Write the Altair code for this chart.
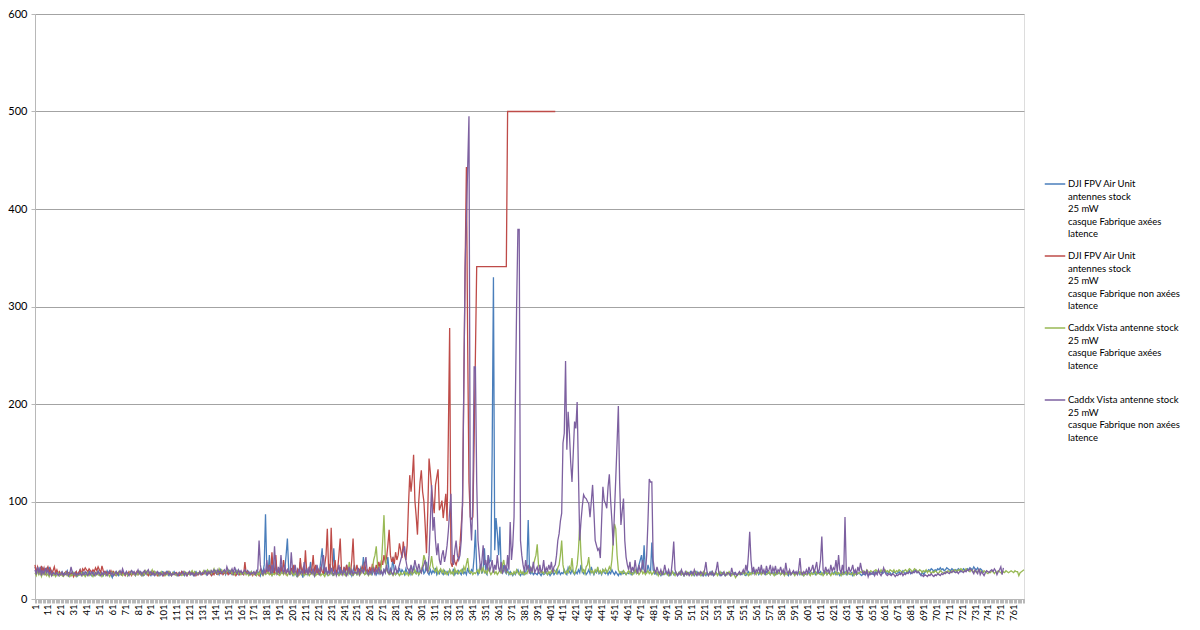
import altair as alt
import pandas as pd

NB = "\u00a0"
NAMES = [
    "DJI FPV Air Unit\nantennes stock\n25 mW\n" + NB + "casque Fabrique axées\nlatence",
    "DJI FPV Air Unit\nantennes stock\n25 mW\n" + NB + "casque Fabrique non axées\nlatence",
    "Caddx Vista antenne stock\n25 mW\n" + NB + "casque Fabrique axées\nlatence\n" + NB,
    "Caddx Vista antenne stock\n25 mW\n" + NB + "casque Fabrique non axées\nlatence",
]
COLORS = ["#4A7EBB", "#BE4B48", "#98B954", "#7D60A0"]
N_CATEGORIES = 769

blue = [
    33, 28, 31, 26, 33, 27, 32, 30, 25, 31,
    28, 33, 26, 29, 27, 25, 28, 26, 27, 24,
    26, 28, 25, 27, 26, 29, 24, 27, 25, 28,
    26, 25, 28, 24, 27, 30, 25, 28, 26, 24,
    27, 25, 29, 26, 24, 28, 25, 27, 26, 29,
    25, 28, 26, 24, 27, 25, 29, 26, 28, 25,
    22, 27, 25, 28, 26, 24, 27, 25, 28, 26,
    25, 28, 24, 27, 26, 25, 28, 26, 24, 27,
    26, 28, 25, 27, 24, 26, 28, 25, 27, 26,
    24, 27, 25, 28, 26, 25, 27, 24, 26, 28,
    27, 25, 28, 26, 24, 27, 25, 26, 28, 25,
    26, 24, 27, 25, 28, 26, 24, 27, 25, 26,
    28, 25, 27, 24, 26, 28, 25, 27, 26, 25,
    27, 26, 28, 25, 29, 27, 26, 28, 25, 27,
    29, 26, 28, 25, 30, 27, 26, 29, 25, 28,
    26, 29, 27, 25, 28, 26, 30, 27, 25, 28,
    26, 27, 25, 28, 26, 29, 27, 25, 28, 26,
    27, 25, 29, 26, 28, 24, 30, 27, 35, 87,
    30, 26, 45, 28, 25, 33, 27, 40, 26, 29,
    25, 35, 28, 26, 31, 45, 62, 30, 26, 28,
    25, 33, 27, 24, 30, 26, 38, 27, 22, 29,
    26, 32, 25, 28, 38, 26, 30, 24, 27, 33,
    25, 29, 40, 52, 28, 26, 31, 25, 29, 36,
    27, 25, 52, 30, 26, 28, 24, 33, 27, 26,
    30, 25, 35, 28, 26, 30, 24, 28, 35, 27,
    25, 29, 26, 32, 28, 43, 30, 26, 28, 25,
    27, 30, 26, 33, 28, 25, 29, 26, 31, 27,
    25, 30, 27, 33, 43, 28, 26, 30, 43, 27,
    25, 29, 27, 32, 26, 30, 28, 25, 31, 27,
    26, 30, 25, 28, 34, 27, 26, 31, 25, 29,
    27, 33, 26, 28, 38, 27, 25, 30, 26, 29,
    27, 32, 25, 28, 26, 30, 27, 25, 29, 26,
    28, 25, 30, 27, 26, 31, 25, 28, 26, 29,
    27, 25, 30, 26, 28, 25, 32, 27, 26, 30,
    28, 43, 71, 30, 25, 28, 35, 26, 30, 52,
    27, 25, 45, 38, 40, 150, 330, 50, 83, 68,
    45, 74, 30, 27, 35, 28, 26, 30, 25, 28,
    26, 24, 27, 25, 28, 30, 26, 24, 27, 25,
    28, 26, 35, 81, 30, 26, 28, 25, 27, 26,
    25, 28, 26, 24, 27, 25, 26, 28, 25, 27,
    24, 26, 28, 25, 27, 30, 26, 29, 25, 27,
    26, 30, 27, 25, 32, 28, 26, 30, 27, 25,
    28, 26, 30, 27, 35, 28, 26, 29, 25, 27,
    30, 26, 33, 28, 25, 29, 27, 31, 26, 28,
    25, 30, 27, 26, 29, 25, 28, 26, 30, 27,
    25, 28, 26, 24, 27, 25, 28, 26, 27, 25,
    27, 26, 28, 25, 27, 26, 29, 27, 30, 35,
    40, 45, 30, 55, 28, 27, 35, 30, 28, 58,
    30, 26, 28, 25, 27, 26, 24, 27, 25, 26,
    28, 25, 27, 24, 26, 28, 25, 27, 26, 24,
    26, 28, 25, 27, 24, 26, 25, 27, 26, 28,
    25, 27, 24, 26, 28, 25, 27, 26, 24, 27,
    26, 24, 27, 25, 26, 28, 25, 24, 26, 27,
    25, 26, 24, 27, 25, 26, 24, 25, 27, 26,
    24, 26, 25, 27, 26, 24, 25, 27, 26, 25,
    27, 25, 24, 26, 28, 25, 27, 26, 30, 27,
    26, 28, 25, 27, 26, 29, 27, 25, 28, 26,
    27, 25, 28, 26, 27, 25, 28, 26, 27, 25,
    26, 28, 25, 27, 26, 24, 27, 25, 26, 28,
    25, 27, 26, 28, 25, 27, 26, 24, 27, 25,
    26, 28, 25, 27, 26, 28, 25, 27, 29, 26,
    28, 25, 27, 26, 28, 25, 27, 26, 25, 27,
    26, 28, 25, 27, 26, 24, 27, 25, 26, 28,
    25, 27, 26, 25, 27, 24, 26, 28, 25, 26,
    27, 25, 24, 26, 25, 27, 26, 24, 25, 27,
    26, 25, 27, 28, 26, 29, 27, 28, 26, 27,
    29, 27, 26, 28, 27, 25, 26, 28, 27, 26,
    27, 28, 26, 27, 29, 27, 26, 28, 27, 29,
    26, 28, 27, 29, 30, 27, 28, 26, 24, 28,
    25, 27, 29, 28, 30, 29, 31, 30, 28, 30,
    29, 31, 30, 32, 30, 31, 29, 30, 32, 31,
    30, 29, 31, 30, 28, 30, 29, 31, 30, 28,
    29, 31, 30, 29, 31, 30, 32, 31, 30, 33,
    31, 30, 32, 29, 31, 30, 28, 27,
]

red = [
    35, 27, 33, 29, 25, 34, 28, 32, 26, 30,
    33, 27, 31, 25, 29, 33, 27, 30, 26, 28,
    25, 27, 24, 26, 28, 25, 27, 26, 24, 27,
    23, 26, 28, 25, 27, 30, 26, 31, 29, 32,
    30, 28, 31, 29, 27, 30, 28, 32, 29, 33,
    30, 27, 34, 29, 26, 28, 25, 27, 26, 29,
    26, 28, 25, 24, 27, 26, 28, 25, 27, 26,
    24, 27, 25, 28, 26, 24, 27, 25, 26, 28,
    25, 27, 26, 24, 27, 25, 28, 26, 24, 27,
    25, 26, 28, 25, 27, 24, 26, 25, 27, 26,
    24, 27, 25, 26, 28, 25, 24, 27, 26, 25,
    27, 25, 24, 26, 28, 25, 27, 26, 24, 27,
    25, 26, 28, 25, 27, 24, 26, 25, 28, 26,
    25, 27, 26, 28, 25, 27, 26, 24, 27, 25,
    28, 26, 25, 27, 26, 28, 25, 27, 26, 28,
    25, 27, 26, 28, 25, 27, 24, 26, 28, 25,
    27, 26, 25, 38, 26, 28, 25, 27, 26, 24,
    27, 25, 28, 26, 24, 30, 26, 25, 28, 26,
    30, 27, 35, 25, 48, 28, 26, 45, 25, 30,
    27, 33, 26, 40, 28, 25, 30, 27, 26, 32,
    25, 35, 28, 26, 30, 24, 42, 27, 31, 25,
    50, 28, 26, 33, 25, 30, 45, 27, 35, 26,
    30, 25, 33, 28, 26, 35, 45, 72, 30, 27,
    73, 35, 28, 40, 27, 30, 45, 62, 30, 26,
    33, 28, 35, 27, 30, 26, 40, 62, 30, 28,
    35, 27, 30, 26, 33, 29, 38, 27, 30, 28,
    33, 27, 36, 30, 28, 35, 30, 38, 32, 40,
    35, 45, 38, 42, 55, 71, 45, 38, 42, 36,
    48, 40, 45, 57, 50, 42, 59, 45, 40, 55,
    95, 127, 110, 125, 148, 101, 85, 66, 100, 120,
    132, 110, 100, 75, 47, 90, 144, 130, 113, 100,
    88, 117, 125, 133, 91, 95, 101, 83, 95, 108,
    80, 170, 278, 37, 33, 45, 38, 35, 40, 42,
    55, 75, 96, 220, 339, 443, 260, 120, 84, 82,
    84, 160, 250, 341, 341, 341, 341, 341, 341, 341,
    341, 341, 341, 341, 341, 341, 341, 341, 341, 341,
    341, 341, 341, 341, 341, 341, 341, 500, 500, 500,
    500, 500, 500, 500, 500, 500, 500, 500, 500, 500,
    500, 500, 500, 500, 500, 500, 500, 500, 500, 500,
    500, 500, 500, 500, 500, 500, 500, 500, 500, 500,
    500, 500, 500, 500, 500,
]

green = [
    27, 24, 29, 25, 28, 23, 27, 25, 28, 24,
    26, 23, 27, 25, 24, 26, 23, 25, 27, 24,
    26, 24, 23, 25, 27, 24, 26, 23, 25, 24,
    27, 25, 23, 26, 24, 25, 27, 24, 26, 23,
    25, 27, 24, 26, 25, 23, 26, 24, 27, 25,
    24, 26, 23, 25, 27, 24, 26, 25, 23, 26,
    28, 25, 27, 24, 26, 28, 25, 27, 24, 26,
    25, 27, 24, 26, 28, 25, 27, 26, 24, 27,
    25, 28, 26, 24, 27, 25, 29, 26, 28, 25,
    27, 30, 26, 28, 25, 27, 24, 26, 28, 25,
    27, 24, 26, 25, 28, 26, 24, 27, 25, 26,
    24, 26, 27, 25, 24, 26, 28, 25, 27, 26,
    25, 27, 29, 26, 28, 25, 27, 26, 28, 25,
    27, 29, 26, 28, 30, 27, 29, 26, 28, 31,
    27, 29, 26, 31, 28, 30, 27, 29, 26, 28,
    30, 27, 29, 26, 28, 25, 27, 29, 26, 28,
    25, 27, 26, 28, 25, 27, 24, 26, 28, 25,
    27, 26, 24, 27, 25, 28, 26, 24, 27, 25,
    26, 28, 25, 27, 24, 26, 25, 27, 28, 25,
    24, 26, 28, 25, 27, 26, 24, 27, 25, 28,
    26, 24, 27, 25, 23, 26, 28, 25, 27, 24,
    26, 25, 27, 24, 26, 28, 25, 27, 24, 26,
    25, 27, 24, 26, 25, 23, 27, 25, 24, 26,
    28, 25, 24, 27, 25, 26, 24, 27, 25, 28,
    26, 24, 27, 25, 38, 27, 25, 24, 26, 28,
    25, 27, 24, 26, 30, 27, 25, 28, 26, 24,
    27, 25, 30, 40, 45, 54, 35, 28, 26, 35,
    60, 86, 45, 30, 27, 25, 28, 26, 24, 27,
    25, 27, 26, 24, 27, 25, 26, 28, 25, 27,
    24, 26, 28, 25, 27, 30, 26, 28, 25, 27,
    30, 35, 45, 40, 32, 28, 30, 35, 44, 33,
    30, 28, 32, 26, 29, 31, 27, 30, 26, 28,
    25, 27, 30, 26, 28, 25, 31, 27, 29, 26,
    28, 30, 26, 33, 29, 36, 42, 30, 27, 28,
    25, 27, 26, 28, 30, 26, 35, 28, 32, 27,
    29, 26, 31, 28, 25, 27, 30, 26, 28, 25,
    27, 30, 26, 35, 40, 30, 27, 28, 26, 25,
    27, 25, 28, 26, 30, 27, 25, 29, 26, 28,
    25, 27, 26, 30, 28, 33, 27, 35, 40, 45,
    56, 35, 30, 27, 28, 26, 30, 27, 25, 28,
    26, 29, 27, 30, 28, 26, 32, 35, 45, 60,
    35, 28, 26, 29, 27, 33, 30, 42, 28, 26,
    30, 35, 50, 76, 45, 28, 30, 26, 33, 35,
    43, 30, 27, 29, 26, 30, 28, 33, 27, 29,
    26, 30, 28, 31, 27, 29, 33, 30, 40, 60,
    77, 72, 45, 30, 27, 28, 26, 29, 27, 25,
    27, 29, 26, 28, 25, 27, 30, 26, 28, 25,
    27, 30, 26, 28, 25, 27, 29, 26, 28, 25,
    27, 29, 26, 28, 24, 27, 25, 28, 26, 25,
    27, 26, 24, 27, 25, 28, 26, 24, 27, 25,
    26, 28, 25, 27, 24, 26, 28, 25, 27, 26,
    24, 27, 25, 28, 26, 25, 27, 24, 26, 28,
    25, 27, 26, 24, 27, 25, 28, 26, 25, 27,
    24, 26, 28, 25, 27, 26, 24, 27, 25, 28,
    26, 24, 27, 25, 22, 24, 26, 25, 27, 26,
    28, 25, 27, 26, 24, 27, 25, 28, 26, 27,
    25, 28, 26, 27, 25, 28, 26, 27, 25, 26,
    28, 25, 27, 26, 24, 27, 25, 26, 28, 25,
    27, 26, 24, 27, 25, 28, 26, 25, 27, 26,
    24, 27, 25, 26, 28, 25, 27, 24, 26, 25,
    27, 26, 24, 27, 25, 26, 28, 25, 27, 26,
    25, 27, 24, 26, 28, 25, 27, 26, 24, 27,
    25, 26, 28, 25, 27, 26, 24, 27, 25, 26,
    28, 25, 27, 26, 25, 27, 24, 26, 25, 27,
    26, 28, 27, 29, 28, 27, 30, 28, 27, 29,
    28, 27, 29, 30, 28, 29, 27, 30, 28, 29,
    30, 28, 29, 27, 30, 29, 28, 30, 27, 29,
    28, 30, 29, 28, 27, 29, 30, 28, 29, 31,
    30, 28, 29, 31, 30, 29, 28, 30, 29, 27,
    29, 28, 30, 27, 29, 28, 26, 28, 27, 29,
    28, 26, 27, 29, 28, 27, 26, 28, 27, 29,
    28, 27, 29, 28, 30, 29, 28, 30, 29, 31,
    30, 28, 29, 31, 30, 29, 28, 30, 29, 28,
    29, 27, 28, 30, 29, 28, 27, 29, 28, 27,
    26, 28, 27, 29, 28, 26, 28, 27, 29, 28,
    27, 26, 28, 27, 29, 28, 27, 28, 29, 28,
    27, 29, 28, 28, 24, 27, 28, 29, 30,
]

purple = [
    30, 25, 33, 27, 31, 24, 29, 26, 32, 27,
    30, 25, 28, 24, 27, 26, 25, 27, 24, 26,
    25, 27, 24, 26, 25, 28, 24, 26, 33, 27,
    25, 27, 24, 26, 25, 27, 24, 26, 25, 28,
    26, 24, 27, 25, 28, 26, 24, 27, 25, 28,
    26, 24, 27, 25, 28, 26, 24, 27, 29, 25,
    27, 24, 26, 28, 25, 27, 29, 26, 31, 27,
    25, 28, 26, 24, 27, 29, 26, 28, 25, 27,
    30, 26, 28, 25, 27, 29, 26, 28, 30, 26,
    28, 25, 27, 24, 26, 28, 25, 27, 26, 24,
    27, 25, 26, 28, 25, 27, 24, 26, 25, 27,
    26, 24, 27, 25, 26, 28, 25, 27, 24, 26,
    28, 25, 27, 26, 24, 27, 25, 26, 28, 25,
    27, 26, 29, 27, 25, 28, 26, 29, 27, 30,
    28, 26, 30, 27, 29, 26, 28, 30, 27, 33,
    29, 26, 28, 31, 27, 33, 28, 26, 30, 27,
    29, 26, 28, 30, 27, 26, 28, 25, 27, 26,
    28, 25, 27, 30, 60, 35, 27, 25, 30, 26,
    40, 28, 32, 26, 35, 28, 54, 30, 27, 33,
    26, 45, 30, 27, 35, 26, 30, 28, 25, 48,
    30, 26, 35, 27, 24, 31, 26, 29, 25, 38,
    27, 30, 25, 33, 28, 26, 31, 24, 28, 35,
    27, 25, 30, 38, 45, 27, 33, 25, 29, 26,
    32, 27, 25, 30, 24, 28, 35, 26, 29, 25,
    31, 27, 24, 28, 33, 26, 30, 25, 28, 27,
    26, 32, 25, 28, 30, 26, 35, 43, 27, 25,
    29, 26, 31, 28, 25, 30, 27, 33, 26, 29,
    25, 30, 27, 35, 28, 26, 31, 27, 25, 29,
    33, 27, 30, 35, 40, 45, 50, 54, 40, 32,
    30, 27, 35, 28, 31, 40, 33, 29, 36, 30,
    27, 32, 35, 40, 30, 28, 45, 80, 117, 70,
    84, 60, 45, 57, 40, 35, 45, 50, 38, 45,
    55, 70, 90, 108, 40, 35, 50, 60, 45, 40,
    45, 60, 100, 220, 339, 390, 443, 495, 84, 60,
    100, 238, 238, 120, 60, 45, 30, 38, 55, 35,
    40, 30, 45, 28, 33, 40, 27, 35, 30, 45,
    32, 28, 38, 26, 30, 35, 27, 45, 30, 79,
    40, 55, 84, 200, 300, 379, 379, 60, 45, 35,
    28, 40, 30, 35, 26, 32, 28, 38, 27, 30,
    33, 26, 35, 28, 30, 40, 27, 32, 29, 35,
    30, 38, 27, 33, 35, 45, 60, 67, 80, 88,
    160, 170, 244, 153, 192, 170, 140, 120, 150, 182,
    175, 202, 130, 60, 80, 95, 107, 104, 103, 100,
    98, 84, 100, 117, 90, 60, 55, 50, 52, 42,
    80, 115, 101, 98, 93, 115, 128, 101, 80, 55,
    90, 124, 160, 198, 120, 76, 90, 103, 60, 43,
    35, 30, 38, 27, 33, 28, 40, 30, 26, 35,
    28, 32, 40, 30, 27, 45, 80, 123, 120, 120,
    40, 30, 27, 33, 28, 26, 30, 25, 27, 35,
    28, 26, 30, 25, 27, 40, 59, 30, 26, 24,
    27, 25, 30, 26, 24, 28, 25, 27, 24, 26,
    28, 25, 30, 26, 24, 27, 25, 28, 26, 24,
    30, 38, 26, 24, 27, 25, 28, 24, 26, 30,
    38, 27, 25, 24, 26, 28, 24, 25, 27, 26,
    24, 32, 26, 25, 27, 24, 26, 28, 25, 27,
    30, 26, 35, 28, 45, 69, 40, 27, 33, 26,
    30, 28, 33, 26, 35, 27, 30, 25, 34, 28,
    30, 35, 26, 32, 28, 34, 26, 30, 28, 33,
    27, 30, 25, 37, 28, 26, 30, 25, 27, 29,
    26, 28, 25, 30, 42, 27, 25, 28, 26, 30,
    26, 33, 28, 30, 35, 27, 32, 38, 26, 30,
    40, 64, 30, 27, 33, 28, 30, 26, 35, 28,
    32, 30, 40, 28, 45, 30, 27, 35, 26, 84,
    30, 27, 33, 28, 30, 35, 27, 30, 26, 33,
    28, 37, 30, 26, 28, 25, 30, 23, 27, 25,
    26, 28, 24, 27, 25, 30, 26, 24, 27, 32,
    28, 25, 24, 26, 25, 24, 26, 25, 23, 25,
    24, 26, 25, 27, 24, 26, 25, 27, 26, 28,
    27, 26, 28, 27, 29, 27, 28, 26, 25, 24,
    23, 25, 24, 23, 25, 24, 26, 24, 23, 25,
    24, 26, 25, 24, 26, 25, 27, 26, 28, 27,
    26, 28, 27, 29, 28, 27, 28, 26, 28, 29,
    28, 27, 29, 28, 30, 29, 31, 30, 28, 26,
    30, 28, 26, 31, 25, 28, 26, 24, 27, 29,
    28, 27, 29, 30, 28, 31, 29, 25, 28, 30,
    33, 25, 32,
]

SERIES = [blue, red, green, purple]
Y_TICKS = [0, 100, 200, 300, 400, 500, 600]
X_TICKS = list(range(1, N_CATEGORIES + 1))

FONT = "Lato"
GRID = "#a3a3a3"
AXIS = "#b8b8b8"

color = alt.Color(
    "serie:N",
    scale=alt.Scale(domain=NAMES, range=COLORS),
    legend=alt.Legend(
        title=None,
        orient="none",
        legendX=1009,
        legendY=159,
        symbolType="stroke",
        symbolSize=420,
        symbolStrokeWidth=1.5,
        labelExpr="split(datum.label, '\\n')",
        labelFont=FONT,
        labelFontSize=9.5,
        labelColor="#000000",
        labelLimit=260,
        rowPadding=6,
        labelOffset=2,
    ),
)

x = alt.X(
    "i:Q",
    scale=alt.Scale(domain=[1, N_CATEGORIES], nice=False, zero=False),
    axis=alt.Axis(
        values=X_TICKS,
        labelExpr="(datum.value - 1) % 10 == 0 ? datum.label : ''",
        labelAngle=-90,
        labelOverlap=False,
        labelBound=False,
        labelFlush=False,
        labelFont=FONT,
        labelFontSize=9.5,
        labelColor="#000000",
        labelPadding=1,
        tickSize=4,
        tickColor=AXIS,
        domainColor=AXIS,
        grid=False,
        title=None,
    ),
)
y = alt.Y(
    "v:Q",
    scale=alt.Scale(domain=[0, 600], nice=False),
    axis=alt.Axis(
        values=Y_TICKS,
        grid=True,
        gridColor=GRID,
        gridWidth=1,
        domainColor=AXIS,
        tickColor=AXIS,
        tickSize=4,
        labelFont=FONT,
        labelFontSize=11,
        labelColor="#000000",
        labelPadding=4,
        title=None,
    ),
)

layers = []
for name, vals in zip(NAMES, SERIES):
    df = pd.DataFrame({"serie": name, "i": list(range(1, len(vals) + 1)), "v": vals})
    layers.append(
        alt.Chart(df).mark_line(strokeWidth=1.3).encode(x=x, y=y, color=color)
    )

chart = (
    alt.layer(*layers)
    .properties(
        width=989,
        height=585,
        autosize=alt.AutoSizeParams(type="none"),
        padding={"left": 27, "top": 6, "right": 168, "bottom": 22},
        background="white",
    )
    .configure_view(stroke=None)
    .configure(style={"guide-label": {"lineHeight": 12.6}})
)

chart.save("out.html", embed_options={"renderer": "svg", "actions": False})
